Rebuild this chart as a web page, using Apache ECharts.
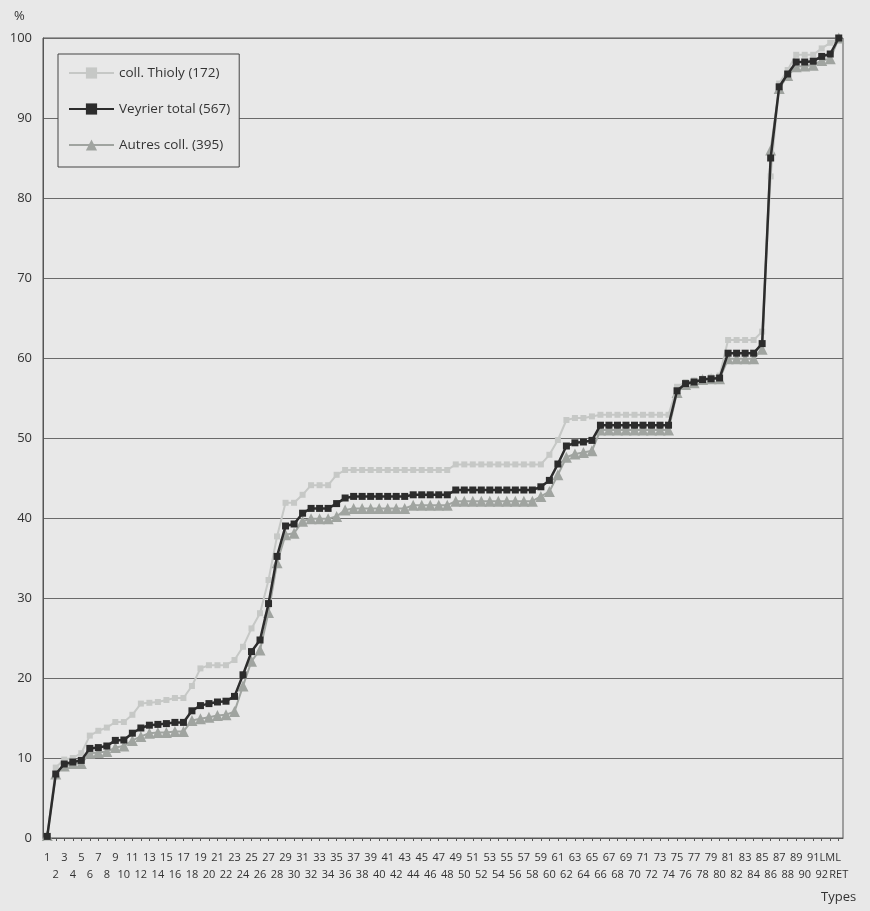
<!DOCTYPE html>
<html>
<head>
<meta charset="utf-8">
<script src="https://cdn.jsdelivr.net/npm/echarts@6/dist/echarts.min.js"></script>
<style>
html,body{margin:0;padding:0;background:#e8e8e8;}
#c{width:870px;height:911px;}
</style>
</head>
<body>
<div id="c"></div>
<script>
var categories = ["1","2","3","4","5","6","7","8","9","10","11","12","13","14","15","16","17","18","19","20",
"21","22","23","24","25","26","27","28","29","30","31","32","33","34","35","36","37","38","39","40",
"41","42","43","44","45","46","47","48","49","50","51","52","53","54","55","56","57","58","59","60",
"61","62","63","64","65","66","67","68","69","70","71","72","73","74","75","76","77","78","79","80",
"81","82","83","84","85","86","87","88","89","90","91","92","LML","RET"];

var thioly = [0,8.8,9.8,10.0,10.6,12.8,13.4,13.8,14.5,14.5,
15.4,16.8,16.9,17.0,17.25,17.5,17.5,19.0,21.2,21.6,
21.6,21.6,22.25,23.9,26.2,28.1,32.25,37.7,41.9,41.9,
42.9,44.1,44.1,44.1,45.4,46.0,46.0,46.0,46.0,46.0,
46.0,46.0,46.0,46.0,46.0,46.0,46.0,46.0,46.7,46.7,
46.7,46.7,46.7,46.7,46.7,46.7,46.7,46.7,46.7,47.9,
49.75,52.25,52.5,52.5,52.7,52.9,52.9,52.9,52.9,52.9,
52.9,52.9,52.9,52.9,56.4,57.0,57.2,57.4,57.6,57.8,
62.25,62.25,62.25,62.25,63.3,82.7,94.3,96.0,97.9,97.9,
97.9,98.7,99.4,100];

var veyrier = [0.2,8.0,9.25,9.5,9.7,11.2,11.3,11.5,12.2,12.25,
13.1,13.75,14.1,14.2,14.3,14.45,14.45,15.9,16.55,16.8,
17.0,17.1,17.7,20.4,23.3,24.75,29.3,35.2,39.0,39.25,
40.6,41.2,41.2,41.2,41.8,42.5,42.7,42.7,42.7,42.7,
42.7,42.7,42.7,42.9,42.9,42.9,42.9,42.9,43.5,43.5,
43.5,43.5,43.5,43.5,43.5,43.5,43.5,43.5,43.9,44.7,
46.75,49.0,49.4,49.5,49.7,51.6,51.6,51.6,51.6,51.6,
51.6,51.6,51.6,51.6,55.9,56.8,57.0,57.3,57.4,57.5,
60.6,60.6,60.6,60.6,61.8,85.0,93.9,95.5,97.0,97.0,
97.1,97.7,98.0,100];

var autres = [0.3,8.0,9.0,9.3,9.3,10.6,10.7,10.8,11.3,11.5,
12.2,12.7,13.1,13.2,13.2,13.3,13.3,14.7,14.9,15.1,
15.3,15.4,15.8,19.0,22.1,23.5,28.2,34.4,37.9,38.1,
39.6,39.9,39.9,39.9,40.2,41.0,41.2,41.2,41.2,41.2,
41.2,41.2,41.2,41.6,41.6,41.6,41.6,41.6,42.1,42.1,
42.1,42.1,42.1,42.1,42.1,42.1,42.1,42.1,42.7,43.3,
45.4,47.6,48.0,48.2,48.4,51.0,51.0,51.0,51.0,51.0,
51.0,51.0,51.0,51.0,55.7,56.7,56.9,57.3,57.4,57.4,
59.9,59.9,59.9,59.9,61.1,86.0,93.7,95.3,96.4,96.5,
96.6,97.2,97.4,100];

var seriesNames = ["coll. Thioly (172)", "Veyrier total (567)", "Autres coll. (395)"];

var chart = echarts.init(document.getElementById('c'), null, {renderer: 'canvas'});
var font = '"Open Sans", "Noto Sans", sans-serif';
chart.setOption({
  backgroundColor: '#e8e8e8',
  animation: false,
  textStyle: {fontFamily: font},
  grid: {left: 43, right: 27, top: 38, bottom: 73, show: true, borderColor: '#555', borderWidth: 1},
  legend: {
    orient: 'vertical', left: 58, top: 54,
    data: seriesNames,
    itemWidth: 45, itemHeight: 14, itemGap: 22,
    padding: [12, 9, 15, 10],
    borderColor: '#444', borderWidth: 1, backgroundColor: '#e8e8e8',
    textStyle: {fontSize: 13.5, color: '#333', fontFamily: font}
  },
  graphic: [
    {type: 'text', left: 14, top: 10, style: {text: '%', fontSize: 13, fill: '#333', fontFamily: font}},
    {type: 'text', left: 821, top: 891, style: {text: 'Types', fontSize: 13, fill: '#333', fontFamily: font}}
  ],
  xAxis: {
    type: 'category', data: categories, boundaryGap: true,
    axisLine: {lineStyle: {color: '#555', width: 1}},
    axisTick: {show: true, alignWithLabel: true, length: 3, lineStyle: {color: '#555'}},
    axisLabel: {
      interval: 0, fontSize: 11, color: '#333', margin: 11, lineHeight: 17, fontFamily: font,
      formatter: function (v, i) { return i % 2 === 0 ? v : '\n' + v; }
    },
    splitLine: {show: false}
  },
  yAxis: {
    type: 'value', min: 0, max: 100, interval: 10,
    axisLine: {show: true, lineStyle: {color: '#555'}},
    axisTick: {show: false},
    axisLabel: {fontSize: 13, color: '#333', margin: 11, fontFamily: font},
    splitLine: {lineStyle: {color: '#6a6a6a', width: 1}}
  },
  series: [
    {name: seriesNames[0], type: 'line', data: thioly, z: 3,
     symbol: 'rect', symbolSize: 6, showAllSymbol: true,
     lineStyle: {color: '#c6c8c6', width: 2}, itemStyle: {color: '#c6c8c6'}},
    {name: seriesNames[1], type: 'line', data: veyrier, z: 4,
     symbol: 'rect', symbolSize: 7, showAllSymbol: true,
     lineStyle: {color: '#2c2c2c', width: 2.5}, itemStyle: {color: '#2c2c2c'}},
    {name: seriesNames[2], type: 'line', data: autres, z: 2,
     symbol: 'triangle', symbolSize: 11, showAllSymbol: true,
     lineStyle: {color: '#a0a4a0', width: 2}, itemStyle: {color: '#a0a4a0'}}
  ]
});
</script>
</body>
</html>
